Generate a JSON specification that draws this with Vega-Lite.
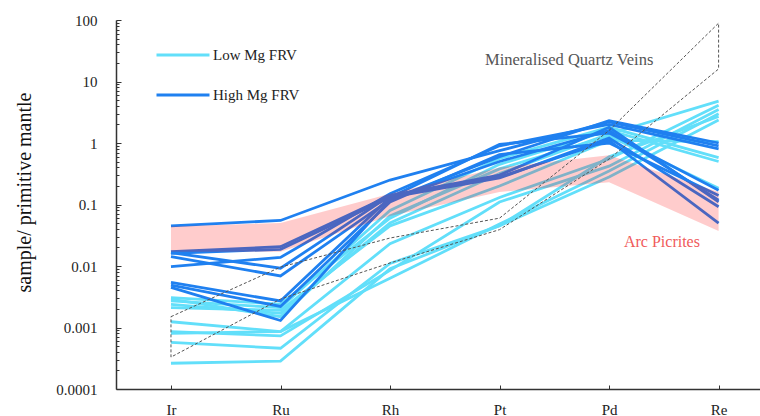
{
  "$schema": "https://vega.github.io/schema/vega-lite/v6.json",
  "width": 644,
  "height": 369,
  "autosize": {"type": "none"},
  "padding": {"left": 116, "top": 20, "right": 0, "bottom": 27},
  "background": "white",
  "config": {"view": {"stroke": null}, "font": "Liberation Serif"},
  "datasets": {
    "lines": [
      {"s":"L1","g":"Low Mg FRV","i":0,"v":0.00305},{"s":"L1","g":"Low Mg FRV","i":1,"v":0.0024},{"s":"L1","g":"Low Mg FRV","i":2,"v":0.06},{"s":"L1","g":"Low Mg FRV","i":3,"v":0.45},{"s":"L1","g":"Low Mg FRV","i":4,"v":1.6},{"s":"L1","g":"Low Mg FRV","i":5,"v":0.5},
      {"s":"L2","g":"Low Mg FRV","i":0,"v":0.0027},{"s":"L2","g":"Low Mg FRV","i":1,"v":0.0021},{"s":"L2","g":"Low Mg FRV","i":2,"v":0.08},{"s":"L2","g":"Low Mg FRV","i":3,"v":0.56},{"s":"L2","g":"Low Mg FRV","i":4,"v":1.8},{"s":"L2","g":"Low Mg FRV","i":5,"v":0.58},
      {"s":"L3","g":"Low Mg FRV","i":0,"v":0.00238},{"s":"L3","g":"Low Mg FRV","i":1,"v":0.0017},{"s":"L3","g":"Low Mg FRV","i":2,"v":0.05},{"s":"L3","g":"Low Mg FRV","i":3,"v":0.32},{"s":"L3","g":"Low Mg FRV","i":4,"v":1.4},{"s":"L3","g":"Low Mg FRV","i":5,"v":4.8},
      {"s":"L4","g":"Low Mg FRV","i":0,"v":0.0021},{"s":"L4","g":"Low Mg FRV","i":1,"v":0.0019},{"s":"L4","g":"Low Mg FRV","i":2,"v":0.045},{"s":"L4","g":"Low Mg FRV","i":3,"v":0.2},{"s":"L4","g":"Low Mg FRV","i":4,"v":1.1},{"s":"L4","g":"Low Mg FRV","i":5,"v":1.05},
      {"s":"L5","g":"Low Mg FRV","i":0,"v":0.00124},{"s":"L5","g":"Low Mg FRV","i":1,"v":0.00086},{"s":"L5","g":"Low Mg FRV","i":2,"v":0.023},{"s":"L5","g":"Low Mg FRV","i":3,"v":0.13},{"s":"L5","g":"Low Mg FRV","i":4,"v":0.55},{"s":"L5","g":"Low Mg FRV","i":5,"v":4.1},
      {"s":"L6","g":"Low Mg FRV","i":0,"v":0.000855},{"s":"L6","g":"Low Mg FRV","i":1,"v":0.00073},{"s":"L6","g":"Low Mg FRV","i":2,"v":0.0085},{"s":"L6","g":"Low Mg FRV","i":3,"v":0.11},{"s":"L6","g":"Low Mg FRV","i":4,"v":0.42},{"s":"L6","g":"Low Mg FRV","i":5,"v":3.5},
      {"s":"L7","g":"Low Mg FRV","i":0,"v":0.000805},{"s":"L7","g":"Low Mg FRV","i":1,"v":0.00086},{"s":"L7","g":"Low Mg FRV","i":2,"v":0.0063},{"s":"L7","g":"Low Mg FRV","i":3,"v":0.048},{"s":"L7","g":"Low Mg FRV","i":4,"v":0.35},{"s":"L7","g":"Low Mg FRV","i":5,"v":3.0},
      {"s":"L8","g":"Low Mg FRV","i":0,"v":0.000574},{"s":"L8","g":"Low Mg FRV","i":1,"v":0.00046},{"s":"L8","g":"Low Mg FRV","i":2,"v":0.011},{"s":"L8","g":"Low Mg FRV","i":3,"v":0.045},{"s":"L8","g":"Low Mg FRV","i":4,"v":0.6},{"s":"L8","g":"Low Mg FRV","i":5,"v":2.7},
      {"s":"L9","g":"Low Mg FRV","i":0,"v":0.000262},{"s":"L9","g":"Low Mg FRV","i":1,"v":0.000285},{"s":"L9","g":"Low Mg FRV","i":2,"v":0.009},{"s":"L9","g":"Low Mg FRV","i":3,"v":0.045},{"s":"L9","g":"Low Mg FRV","i":4,"v":0.28},{"s":"L9","g":"Low Mg FRV","i":5,"v":2.37},
      {"s":"L10","g":"Low Mg FRV","i":0,"v":0.0029},{"s":"L10","g":"Low Mg FRV","i":1,"v":0.0015},{"s":"L10","g":"Low Mg FRV","i":2,"v":0.065},{"s":"L10","g":"Low Mg FRV","i":3,"v":0.38},{"s":"L10","g":"Low Mg FRV","i":4,"v":1.3},{"s":"L10","g":"Low Mg FRV","i":5,"v":0.183},
      {"s":"D1","g":"High Mg FRV","i":0,"v":0.045},{"s":"D1","g":"High Mg FRV","i":1,"v":0.055},{"s":"D1","g":"High Mg FRV","i":2,"v":0.25},{"s":"D1","g":"High Mg FRV","i":3,"v":0.75},{"s":"D1","g":"High Mg FRV","i":4,"v":2.2},{"s":"D1","g":"High Mg FRV","i":5,"v":0.9},
      {"s":"D2","g":"High Mg FRV","i":0,"v":0.0171},{"s":"D2","g":"High Mg FRV","i":1,"v":0.0206},{"s":"D2","g":"High Mg FRV","i":2,"v":0.14},{"s":"D2","g":"High Mg FRV","i":3,"v":0.3},{"s":"D2","g":"High Mg FRV","i":4,"v":1.8},{"s":"D2","g":"High Mg FRV","i":5,"v":0.11},
      {"s":"D3","g":"High Mg FRV","i":0,"v":0.0161},{"s":"D3","g":"High Mg FRV","i":1,"v":0.0187},{"s":"D3","g":"High Mg FRV","i":2,"v":0.13},{"s":"D3","g":"High Mg FRV","i":3,"v":0.27},{"s":"D3","g":"High Mg FRV","i":4,"v":1.2},{"s":"D3","g":"High Mg FRV","i":5,"v":0.092},
      {"s":"D4","g":"High Mg FRV","i":0,"v":0.0142},{"s":"D4","g":"High Mg FRV","i":1,"v":0.0069},{"s":"D4","g":"High Mg FRV","i":2,"v":0.12},{"s":"D4","g":"High Mg FRV","i":3,"v":0.6},{"s":"D4","g":"High Mg FRV","i":4,"v":2.3},{"s":"D4","g":"High Mg FRV","i":5,"v":1.0},
      {"s":"D5","g":"High Mg FRV","i":0,"v":0.0098},{"s":"D5","g":"High Mg FRV","i":1,"v":0.0138},{"s":"D5","g":"High Mg FRV","i":2,"v":0.15},{"s":"D5","g":"High Mg FRV","i":3,"v":0.9},{"s":"D5","g":"High Mg FRV","i":4,"v":2.0},{"s":"D5","g":"High Mg FRV","i":5,"v":0.8},
      {"s":"D6","g":"High Mg FRV","i":0,"v":0.0054},{"s":"D6","g":"High Mg FRV","i":1,"v":0.0027},{"s":"D6","g":"High Mg FRV","i":2,"v":0.13},{"s":"D6","g":"High Mg FRV","i":3,"v":0.95},{"s":"D6","g":"High Mg FRV","i":4,"v":1.45},{"s":"D6","g":"High Mg FRV","i":5,"v":0.17},
      {"s":"D7","g":"High Mg FRV","i":0,"v":0.0049},{"s":"D7","g":"High Mg FRV","i":1,"v":0.0022},{"s":"D7","g":"High Mg FRV","i":2,"v":0.11},{"s":"D7","g":"High Mg FRV","i":3,"v":0.65},{"s":"D7","g":"High Mg FRV","i":4,"v":1.0},{"s":"D7","g":"High Mg FRV","i":5,"v":0.14},
      {"s":"D8","g":"High Mg FRV","i":0,"v":0.0045},{"s":"D8","g":"High Mg FRV","i":1,"v":0.0013},{"s":"D8","g":"High Mg FRV","i":2,"v":0.12},{"s":"D8","g":"High Mg FRV","i":3,"v":0.5},{"s":"D8","g":"High Mg FRV","i":4,"v":1.6},{"s":"D8","g":"High Mg FRV","i":5,"v":0.118},
      {"s":"D9","g":"High Mg FRV","i":0,"v":0.0165},{"s":"D9","g":"High Mg FRV","i":1,"v":0.0092},{"s":"D9","g":"High Mg FRV","i":2,"v":0.14},{"s":"D9","g":"High Mg FRV","i":3,"v":0.28},{"s":"D9","g":"High Mg FRV","i":4,"v":1.1},{"s":"D9","g":"High Mg FRV","i":5,"v":0.05}
    ],
    "band": [
      {"i":0,"lo":0.017,"hi":0.044},
      {"i":1,"lo":0.017,"hi":0.05},
      {"i":2,"lo":0.065,"hi":0.15},
      {"i":3,"lo":0.16,"hi":0.4},
      {"i":4,"lo":0.23,"hi":0.63},
      {"i":5,"lo":0.037,"hi":0.16}
    ],
    "quartz": [
      {"o":0,"i":0,"v":0.0015},{"o":1,"i":1,"v":0.0096},{"o":2,"i":2,"v":0.0285},{"o":3,"i":3,"v":0.06},{"o":4,"i":4,"v":1.6},{"o":5,"i":5,"v":89},
      {"o":6,"i":5,"v":16},{"o":7,"i":4,"v":0.55},{"o":8,"i":3,"v":0.039},{"o":9,"i":2,"v":0.0112},{"o":10,"i":1,"v":0.0029},{"o":11,"i":0,"v":0.00033},{"o":12,"i":0,"v":0.0015}
    ],
    "labels": [
      {"i":2.867,"v":22.4,"t":"Mineralised Quartz Veins","k":"q"},
      {"i":4.136,"v":0.0245,"t":"Arc Picrites","k":"a"}
    ]
  },
  "layer": [
    {
      "data": {"name": "lines"},
      "mark": {"type": "line", "strokeWidth": 2.8},
      "encoding": {
        "x": {"field": "i", "type": "quantitative", "title": null,
          "scale": {"domain": [-0.502, 5.378], "nice": false, "zero": false},
          "axis": {"title": null, "values": [0,1,2,3,4,5], "labelExpr": "['Ir','Ru','Rh','Pt','Pd','Re'][datum.value]", "grid": false, "tickSize": -4, "labelPadding": 17, "domainColor": "#333", "domainWidth": 1.5, "tickColor": "#333", "labelFontSize": 15, "labelColor": "#222", "labelFont": "Liberation Serif"}},
        "y": {"field": "v", "type": "quantitative",
          "scale": {"type": "log", "domain": [0.0001, 100], "nice": false},
          "axis": {"title": "sample/ primitive mantle", "values": [0.0001,0.001,0.01,0.1,1,10,100], "format": "~g", "grid": false, "tickSize": -5, "labelPadding": 24, "domainColor": "#333", "domainWidth": 1.5, "tickColor": "#333", "labelFontSize": 15, "labelColor": "#222", "labelFont": "Liberation Serif", "titleFont": "Liberation Serif", "titleFontSize": 20, "titleFontWeight": "normal", "titleColor": "#111", "titleX": -92, "titleY": 172, "titleAngle": -90, "titleAlign": "center", "titleBaseline": "middle", "orient": "left"}},
        "color": {"field": "g", "type": "nominal",
          "scale": {"domain": ["Low Mg FRV", "High Mg FRV"], "range": ["#62dffa", "#1f80f0"]},
          "legend": {"orient": "none", "legendX": 39, "legendY": 7, "title": null, "symbolType": "stroke", "symbolSize": 2809, "symbolStrokeWidth": 3, "labelFontSize": 15, "labelFont": "Liberation Serif", "labelColor": "#222", "labelOffset": 2, "rowPadding": 4}},
        "detail": {"field": "s", "type": "nominal"}
      }
    },
    {
      "mark": {"type": "rule", "color": "#777", "strokeWidth": 1.5},
      "encoding": {
        "y": {"datum": 100, "type": "quantitative",
          "axis": {"orient": "left", "title": null, "labels": false, "domain": false, "grid": false, "tickSize": -3, "tickColor": "#333",
            "values": [0.0002,0.0003,0.0004,0.0005,0.0006,0.0007,0.0008,0.0009,0.002,0.003,0.004,0.005,0.006,0.007,0.008,0.009,0.02,0.03,0.04,0.05,0.06,0.07,0.08,0.09,0.2,0.3,0.4,0.5,0.6,0.7,0.8,0.9,2,3,4,5,6,7,8,9,20,30,40,50,60,70,80,90]}}
      }
    },
    {
      "data": {"name": "band"},
      "mark": {"type": "area", "color": "#ff0000", "opacity": 0.2},
      "encoding": {
        "x": {"field": "i", "type": "quantitative", "title": null},
        "y": {"field": "lo", "type": "quantitative", "axis": null},
        "y2": {"field": "hi"}
      }
    },
    {
      "data": {"name": "quartz"},
      "mark": {"type": "line", "color": "#555", "strokeWidth": 1, "strokeDash": [3, 2]},
      "encoding": {
        "x": {"field": "i", "type": "quantitative", "title": null},
        "y": {"field": "v", "type": "quantitative", "axis": null},
        "order": {"field": "o", "type": "quantitative"}
      }
    },
    {
      "data": {"name": "labels"},
      "transform": [{"filter": "datum.k == 'q'"}],
      "mark": {"type": "text", "align": "left", "baseline": "middle", "fontSize": 16.5, "font": "Liberation Serif", "color": "#555"},
      "encoding": {
        "x": {"field": "i", "type": "quantitative", "title": null},
        "y": {"field": "v", "type": "quantitative", "axis": null},
        "text": {"field": "t"}
      }
    },
    {
      "data": {"name": "labels"},
      "transform": [{"filter": "datum.k == 'a'"}],
      "mark": {"type": "text", "align": "left", "baseline": "middle", "fontSize": 16, "font": "Liberation Serif", "color": "#f05a5a"},
      "encoding": {
        "x": {"field": "i", "type": "quantitative", "title": null},
        "y": {"field": "v", "type": "quantitative", "axis": null},
        "text": {"field": "t"}
      }
    }
  ],
  "resolve": {"axis": {"y": "independent"}}
}
